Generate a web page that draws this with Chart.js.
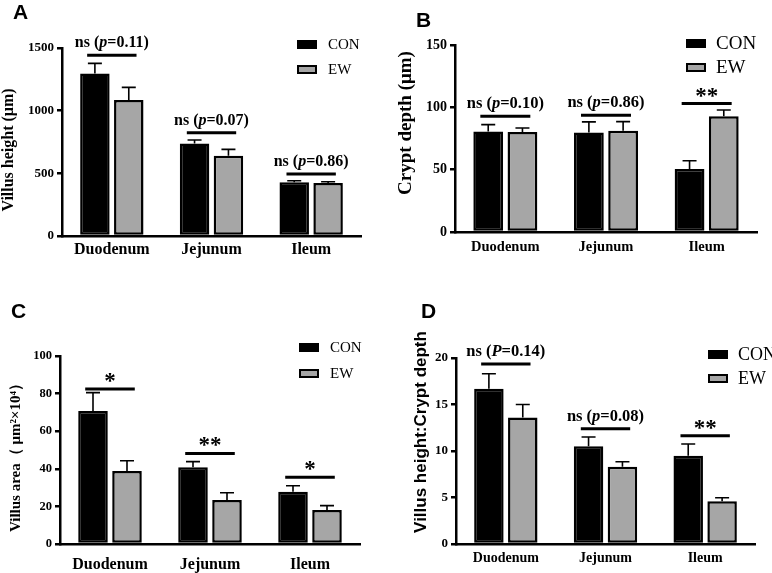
<!DOCTYPE html>
<html>
<head>
<meta charset="utf-8">
<script src="https://cdn.jsdelivr.net/npm/chart.js@4.4.1/dist/chart.umd.min.js"></script>
<style>
  html, body { margin: 0; padding: 0; background: #fff; }
  #wrap { position: relative; width: 772px; height: 573px; overflow: hidden; }
  canvas { position: absolute; }
</style>
</head>
<body>
<div id="wrap">
  <canvas id="panelA" width="386" height="286" style="left:0;top:0"></canvas>
  <canvas id="panelB" width="386" height="286" style="left:386px;top:0"></canvas>
  <canvas id="panelC" width="386" height="287" style="left:0;top:286px"></canvas>
  <canvas id="panelD" width="386" height="287" style="left:386px;top:286px"></canvas>
</div>
<script>
const categories = ['Duodenum', 'Jejunum', 'Ileum'];
const groupNames = ['CON', 'EW'];

// A - villus height (µm)
const conVillusHeight = [1297, 739, 428];
const conVillusHeightErr = [80, 27, 13];
const ewVillusHeight = [1085, 640, 423];
const ewVillusHeightErr = [101, 51, 10];
const villusHeightSigAt = [1443, 824, 494];
const villusHeightSig = ['ns (p=0.11)', 'ns (p=0.07)', 'ns (p=0.86)'];
const villusHeightTicks = [0, 500, 1000, 1500];

// B - crypt depth (µm)
const conCryptDepth = [80.7, 79.9, 50.6];
const conCryptDepthErr = [5.4, 8.4, 6.6];
const ewCryptDepth = [80.2, 81.3, 92.8];
const ewCryptDepthErr = [3.2, 7.2, 5.1];
const cryptDepthSigAt = [92.8, 93.6, 103];
const cryptDepthSig = ['ns (p=0.10)', 'ns (p=0.86)', '**'];
const cryptDepthTicks = [0, 50, 100, 150];

// C - villus area
const conVillusArea = [70.7, 40.8, 27.8];
const conVillusAreaErr = [9.8, 3.0, 3.2];
const ewVillusArea = [38.8, 23.4, 18.1];
const ewVillusAreaErr = [5.5, 3.9, 2.3];
const villusAreaSigAt = [82.4, 48.2, 35.5];
const villusAreaSig = ['*', '**', '*'];
const villusAreaTicks = [0, 20, 40, 60, 80, 100];

// D - villus height : crypt depth
const conRatio = [16.7, 10.5, 9.5];
const conRatioErr = [1.6, 1.0, 1.25];
const ewRatio = [13.6, 8.3, 4.6];
const ewRatioErr = [1.4, 0.55, 0.38];
const ratioSigAt = [19.35, 12.4, 11.65];
const ratioSig = ['ns (P=0.14)', 'ns (p=0.08)', '**'];
const ratioTicks = [0, 5, 10, 15, 20];

const SERIF = "'Liberation Serif', 'Times New Roman', serif";
const SANS = "'Liberation Sans', Arial, sans-serif";
const GREY = '#a6a6a6';

// draws "ns (p=0.11)" with an italic p, or stars
function drawSigText(ctx, text, cx, lineY, size) {
  ctx.save();
  ctx.fillStyle = '#000';
  if (/^\*+$/.test(text)) {
    ctx.font = `bold 23px ${SERIF}`;
    ctx.textAlign = 'center';
    ctx.textBaseline = 'alphabetic';
    ctx.fillText(text, cx, lineY - 1);
    ctx.restore();
    return;
  }
  const m = text.match(/^(.*\()([pP])(=.*)$/);
  const parts = m ? [[m[1], 'bold'], [m[2], 'italic bold'], [m[3], 'bold']] : [[text, 'bold']];
  let total = 0;
  parts.forEach(p => { ctx.font = `${p[1]} ${size}px ${SERIF}`; p.push(ctx.measureText(p[0]).width); total += p[2]; });
  let x = cx - total / 2;
  ctx.textAlign = 'left';
  ctx.textBaseline = 'alphabetic';
  parts.forEach(p => { ctx.font = `${p[1]} ${size}px ${SERIF}`; ctx.fillText(p[0], x, lineY - 8); x += p[2]; });
  ctx.restore();
}

const decor = {
  id: 'decor',
  afterDatasetsDraw(chart, args, o) {
    const ctx = chart.ctx;
    const y = chart.scales.y;
    chart.data.datasets.forEach((ds, i) => {
      chart.getDatasetMeta(i).data.forEach((bar, j) => {
        const top = y.getPixelForValue(ds.data[j] + ds.errors[j]);
        ctx.save();
        ctx.strokeStyle = '#000';
        ctx.lineWidth = 1.6;
        ctx.beginPath();
        ctx.moveTo(bar.x, bar.y);
        ctx.lineTo(bar.x, top);
        ctx.moveTo(bar.x - 7, top);
        ctx.lineTo(bar.x + 7, top);
        ctx.stroke();
        ctx.restore();
      });
    });
    const m0 = chart.getDatasetMeta(0), m1 = chart.getDatasetMeta(1);
    o.sigAt.forEach((v, j) => {
      const b0 = m0.data[j], b1 = m1.data[j];
      const x0 = b0.x - b0.width / 2 + 7, x1 = b1.x + b1.width / 2 - 7;
      const ly = y.getPixelForValue(v);
      ctx.save();
      ctx.strokeStyle = '#000';
      ctx.lineWidth = 3;
      ctx.beginPath();
      ctx.moveTo(x0, ly);
      ctx.lineTo(x1, ly);
      ctx.stroke();
      ctx.restore();
      drawSigText(ctx, o.sig[j], (x0 + x1) / 2, ly, o.sigSize);
    });
  },
  afterDraw(chart, args, o) {
    const ctx = chart.ctx;
    ctx.save();
    // panel letter
    ctx.fillStyle = '#000';
    ctx.font = `bold 21px ${SANS}`;
    ctx.textAlign = 'left';
    ctx.textBaseline = 'top';
    ctx.fillText(o.letter.text, o.letter.x, o.letter.y);
    // y title
    ctx.save();
    ctx.translate(o.title.x, o.title.y);
    ctx.rotate(-Math.PI / 2);
    ctx.font = o.title.font;
    ctx.textAlign = 'center';
    ctx.textBaseline = 'middle';
    ctx.fillText(o.title.text, 0, 0);
    ctx.restore();
    // legend
    const L = o.legend;
    chart.data.datasets.forEach((ds, i) => {
      const by = L.y[i];
      ctx.fillStyle = ds.backgroundColor;
      ctx.fillRect(L.x, by, 20, L.boxH);
      ctx.strokeStyle = '#000';
      ctx.lineWidth = 2;
      ctx.strokeRect(L.x + 1, by + 1, 18, L.boxH - 2);
      ctx.fillStyle = '#000';
      ctx.font = L.font;
      ctx.textAlign = 'left';
      ctx.textBaseline = 'middle';
      ctx.fillText(ds.label, L.textX, by + L.boxH / 2 + 1);
    });
    ctx.restore();
  }
};

function makePanel(id, p) {
  const cv = document.getElementById(id);
  const W = cv.width, H = cv.height;
  return new Chart(cv, {
    type: 'bar',
    data: {
      labels: categories,
      datasets: [
        { label: groupNames[0], data: p.con, errors: p.conErr, backgroundColor: '#000', borderColor: '#000', borderWidth: 2.5, borderSkipped: false },
        { label: groupNames[1], data: p.ew, errors: p.ewErr, backgroundColor: GREY, borderColor: '#000', borderWidth: 2.5, borderSkipped: false }
      ]
    },
    options: {
      responsive: false,
      animation: false,
      devicePixelRatio: 1,
      layout: { padding: { left: 0, top: p.area.t, right: W - p.area.r, bottom: 0 } },
      datasets: { bar: { categoryPercentage: 0.68, barPercentage: 0.87 } },
      plugins: {
        legend: { display: false },
        tooltip: { enabled: false },
        decor: { sigAt: p.sigAt, sig: p.sig, sigSize: p.sigSize, letter: p.letter, title: p.title, legend: p.legend }
      },
      scales: {
        x: {
          grid: { display: false, drawTicks: false },
          border: { display: true, color: '#000', width: 2.5 },
          ticks: { color: '#000', padding: p.xPad, font: { family: SERIF, weight: 'bold', size: p.xFont } },
          afterFit(s) { s.height = H - p.area.b; }
        },
        y: {
          min: p.ticks[0],
          max: p.ticks[p.ticks.length - 1],
          afterBuildTicks(s) { s.ticks = p.ticks.map(v => ({ value: v })); },
          grid: { display: true, drawOnChartArea: false, drawTicks: true, tickLength: 5, color: '#000', lineWidth: 2.5 },
          border: { display: true, color: '#000', width: 2.5 },
          ticks: { color: '#000', padding: 3, font: { family: SERIF, weight: 'bold', size: p.yFont }, callback: v => String(v) },
          afterFit(s) { s.width = p.area.l; }
        }
      }
    },
    plugins: [decor]
  });
}

makePanel('panelA', {
  con: conVillusHeight, conErr: conVillusHeightErr, ew: ewVillusHeight, ewErr: ewVillusHeightErr,
  sigAt: villusHeightSigAt, sig: villusHeightSig, ticks: villusHeightTicks,
  area: { l: 62, r: 361, t: 48, b: 236 }, yFont: 13, xFont: 16, xPad: 4, sigSize: 16,
  letter: { text: 'A', x: 13, y: 3 },
  title: { text: 'Villus height (μm)', x: 9, y: 150, font: `bold 16px ${SERIF}` },
  legend: { x: 297, y: [40, 65], boxH: 9, textX: 328, font: `15px ${SERIF}` }
});

makePanel('panelB', {
  con: conCryptDepth, conErr: conCryptDepthErr, ew: ewCryptDepth, ewErr: ewCryptDepthErr,
  sigAt: cryptDepthSigAt, sig: cryptDepthSig, ticks: cryptDepthTicks,
  area: { l: 69, r: 371, t: 45, b: 232 }, yFont: 14, xFont: 14.5, xPad: 7, sigSize: 16.5,
  letter: { text: 'B', x: 30, y: 11 },
  title: { text: 'Crypt depth (μm)', x: 20, y: 123, font: `bold 19px ${SERIF}` },
  legend: { x: 300, y: [39, 63], boxH: 9, textX: 330, font: `19px ${SERIF}` }
});

makePanel('panelC', {
  con: conVillusArea, conErr: conVillusAreaErr, ew: ewVillusArea, ewErr: ewVillusAreaErr,
  sigAt: villusAreaSigAt, sig: villusAreaSig, ticks: villusAreaTicks,
  area: { l: 60, r: 360, t: 70, b: 258 }, yFont: 12.5, xFont: 16, xPad: 11, sigSize: 16,
  letter: { text: 'C', x: 11, y: 16 },
  title: { text: 'Villus area（ μm²×10⁴）', x: 16, y: 168, font: `bold 15px ${SERIF}` },
  legend: { x: 299, y: [57, 83], boxH: 9, textX: 330, font: `15px ${SERIF}` }
});

makePanel('panelD', {
  con: conRatio, conErr: conRatioErr, ew: ewRatio, ewErr: ewRatioErr,
  sigAt: ratioSigAt, sig: ratioSig, ticks: ratioTicks,
  area: { l: 70, r: 369, t: 72, b: 258 }, yFont: 13, xFont: 14, xPad: 6, sigSize: 16.5,
  letter: { text: 'D', x: 35, y: 16 },
  title: { text: 'Villus height:Crypt depth', x: 35, y: 146, font: `bold 17px ${SANS}` },
  legend: { x: 322, y: [64, 88], boxH: 9, textX: 352, font: `18px ${SERIF}` }
});
</script>
</body>
</html>
